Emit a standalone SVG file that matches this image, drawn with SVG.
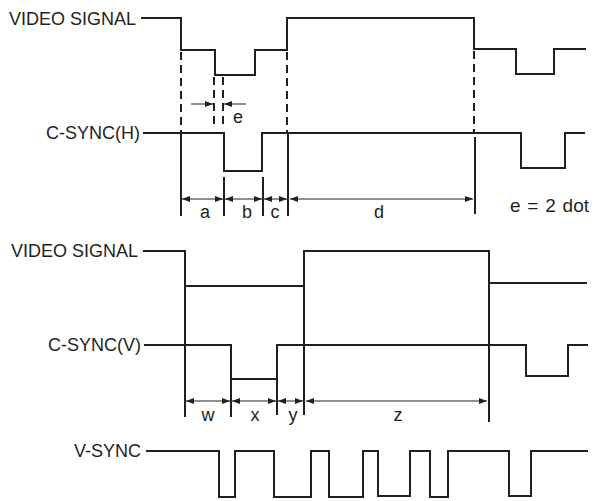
<svg xmlns="http://www.w3.org/2000/svg" width="595" height="501" viewBox="0 0 595 501">
<defs>
<style>
.sig{fill:none;stroke:#231f20;stroke-width:2;stroke-linejoin:miter;stroke-linecap:butt}
.dash{fill:none;stroke:#231f20;stroke-width:2;stroke-dasharray:8 5}
.dim{fill:none;stroke:#231f20;stroke-width:1}
.ext{fill:none;stroke:#231f20;stroke-width:2}
text{font-family:"Liberation Sans",Arial,sans-serif;font-size:18px;fill:#231f20}
.lab{text-anchor:end}
.mid{text-anchor:middle}
</style>
<marker id="ah" viewBox="0 0 8 6" refX="8" refY="3" markerWidth="8" markerHeight="6" markerUnits="userSpaceOnUse" orient="auto-start-reverse">
<path d="M0,0 L8,3 L0,6 Z" fill="#231f20"/>
</marker>
</defs>
<g id="labels">
<text class="lab" x="136" y="25">VIDEO SIGNAL</text>
<text class="lab" x="140" y="139">C-SYNC(H)</text>
<text class="lab" x="138" y="257">VIDEO SIGNAL</text>
<text class="lab" x="141" y="351">C-SYNC(V)</text>
<text class="lab" x="141" y="457">V-SYNC</text>
<text x="510" y="212" style="font-size:19px;word-spacing:1.5px">e = 2 dot</text>
</g>
<g id="video-h"><path class="sig" d="M141,18 H181 V50 H215 V75 H255 V50 H287 V18 H474 V49 H516 V74 H554 V49 H586"/></g>
<g id="csync-h"><path class="sig" d="M143,133 H224 V171 H262 V133 H521 V168 H565 V133 H585"/></g>
<g id="video-v"><path class="sig" d="M143,251 H185 V286 H304 V251 H489 V283 H587"/></g>
<g id="csync-v"><path class="sig" d="M144,345 H231 V379 H277 V345 H526 V376 H568 V345 H588"/></g>
<g id="vsync"><path class="sig" d="M146,451 H219 V497 H235 V451 H274 V497 H311 V451 H329 V497 H363 V451 H378 V496 H410 V451 H430 V497 H448 V451 H509 V496 H531 V451 H588"/></g>
<g id="connectors">
<line class="dash" x1="181" y1="52" x2="181" y2="133"/>
<line class="dash" x1="287" y1="52" x2="287" y2="133"/>
<line class="dash" x1="474" y1="51" x2="474" y2="133"/>
<line class="dash" x1="214" y1="77" x2="214" y2="126"/>
<line class="dash" x1="223" y1="77" x2="223" y2="126"/>
<line class="ext" x1="181" y1="133" x2="181" y2="216"/>
<line class="ext" x1="224" y1="177" x2="224" y2="216"/>
<line class="ext" x1="263" y1="177" x2="263" y2="216"/>
<line class="ext" x1="288" y1="133" x2="288" y2="216"/>
<line class="ext" x1="475" y1="137" x2="475" y2="214"/>
<line class="dim" x1="191" y1="104" x2="213" y2="104" marker-end="url(#ah)"/>
<line class="dim" x1="246" y1="104" x2="224" y2="104" marker-end="url(#ah)"/>
<line class="dim" x1="182" y1="199" x2="223" y2="199" marker-start="url(#ah)" marker-end="url(#ah)"/>
<line class="dim" x1="225" y1="199" x2="262" y2="199" marker-start="url(#ah)" marker-end="url(#ah)"/>
<line class="dim" x1="264" y1="199" x2="287" y2="199" marker-start="url(#ah)" marker-end="url(#ah)"/>
<line class="dim" x1="290" y1="199" x2="473" y2="199" marker-start="url(#ah)" marker-end="url(#ah)"/>
<line class="ext" x1="185" y1="286" x2="185" y2="417"/>
<line class="ext" x1="231" y1="379" x2="231" y2="417"/>
<line class="ext" x1="277" y1="345" x2="277" y2="415"/>
<line class="ext" x1="304" y1="286" x2="304" y2="415"/>
<line class="ext" x1="489" y1="283" x2="489" y2="422"/>
<line class="dim" x1="186" y1="401" x2="230" y2="401" marker-start="url(#ah)" marker-end="url(#ah)"/>
<line class="dim" x1="232" y1="401" x2="276" y2="401" marker-start="url(#ah)" marker-end="url(#ah)"/>
<line class="dim" x1="278" y1="401" x2="303" y2="401" marker-start="url(#ah)" marker-end="url(#ah)"/>
<line class="dim" x1="306" y1="401" x2="487" y2="401" marker-start="url(#ah)" marker-end="url(#ah)"/>
</g>
<g id="dim-labels">
<text class="mid" x="238" y="123">e</text>
<text class="mid" x="205" y="218">a</text>
<text class="mid" x="247" y="218">b</text>
<text class="mid" x="275" y="218">c</text>
<text class="mid" x="379" y="218">d</text>
<text class="mid" x="208" y="421">w</text>
<text class="mid" x="255" y="421">x</text>
<text class="mid" x="293" y="421">y</text>
<text class="mid" x="398" y="421">z</text>
</g>
</svg>
